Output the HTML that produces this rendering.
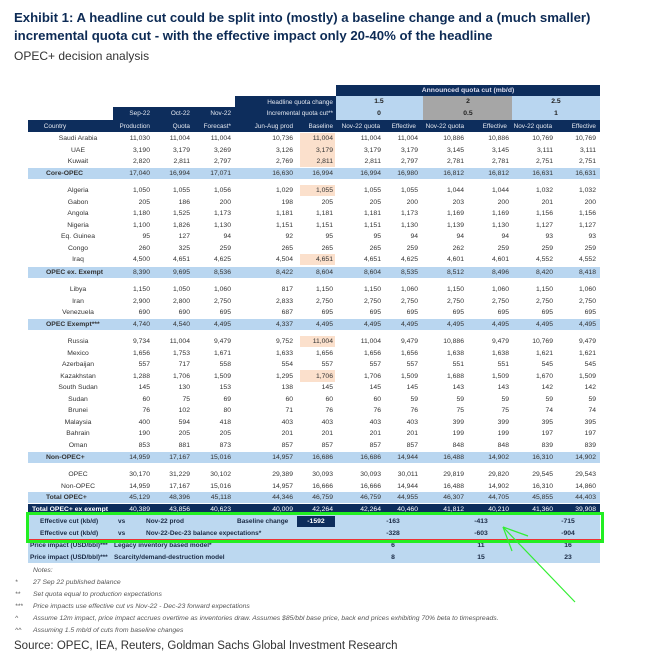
<!DOCTYPE html>
<html><head><meta charset="utf-8">
<style>
body{margin:0;width:650px;height:664px;background:#fff;position:relative;overflow:hidden;font-family:"Liberation Sans",sans-serif;}
.a{position:absolute;white-space:nowrap;}
.c{position:absolute;font-size:6.8px;color:#333;line-height:11px;height:11px;white-space:nowrap;}
.band{position:absolute;}
</style></head><body>
<div class="a" style="left:14px;top:9px;font-size:13.2px;font-weight:bold;color:#0d2b55;line-height:18px;">Exhibit 1: A headline cut could be split into (mostly) a baseline change and a (much smaller)<br>incremental quota cut - with the effective impact only 20-40% of the headline</div>
<div class="a" style="left:14px;top:49px;font-size:12px;color:#333;">OPEC+ decision analysis</div>

<div class="band" style="left:336px;top:85px;width:264px;height:11px;background:#0d2d5c;color:#dde;font-size:6.8px;font-weight:bold;text-align:center;line-height:11px;">Announced quota cut (mb/d)</div>
<div class="band" style="left:235px;top:96px;width:101px;height:24px;background:#0d2d5c;"></div>
<div class="band" style="left:113px;top:107px;width:122px;height:13px;background:#0d2d5c;"></div>
<div class="band" style="left:336px;top:96px;width:264px;height:24px;background:#b9d6f0;"></div>
<div class="band" style="left:423px;top:96px;width:89px;height:24px;background:#a6a6a6;"></div>
<div class="band" style="left:28px;top:120px;width:572px;height:12px;background:#0d2d5c;"></div>
<div class="band" style="left:300px;top:133px;width:35px;height:34px;background:#fbe0cc;"></div>
<div id="body"></div>
<div class="band" style="left:28px;top:515px;width:572px;height:48px;background:#bcd8f0;"></div>
<div class="band" style="left:297px;top:516px;width:38px;height:11px;background:#0d2d5c;color:#fff;font-size:6.8px;font-weight:bold;text-align:center;line-height:11px;">-1592</div>
<div id="bottom"></div>
<div class="band" style="left:26px;top:512px;width:572px;height:25px;border:3px solid #22ee22;box-shadow:inset 0 -1px 0 #e33;"></div>
<svg class="a" style="left:0;top:0" width="650" height="664"><g stroke="#33ee33" stroke-width="1.2" fill="none"><line x1="575" y1="602" x2="503" y2="527"/><line x1="503" y1="527" x2="528" y2="536"/><line x1="503" y1="527" x2="512" y2="551"/></g></svg>
<div id="notes"></div>
<div class="a" style="left:14px;top:640px;font-size:11.5px;color:#333;">Source: OPEC, IEA, Reuters, Goldman Sachs Global Investment Research</div>

<script>
const countries=["Saudi Arabia","UAE","Kuwait","Core-OPEC","Algeria","Gabon","Angola","Nigeria","Eq. Guinea","Congo","Iraq","OPEC ex. Exempt","Libya","Iran","Venezuela","OPEC Exempt***","Russia","Mexico","Azerbaijan","Kazakhstan","South Sudan","Sudan","Brunei","Malaysia","Bahrain","Oman","Non-OPEC+","OPEC","Non-OPEC","Total OPEC+","Total OPEC+ ex exempt"];
const values=[
["11,030","11,004","11,004","10,736","11,004","11,004","11,004","10,886","10,886","10,769","10,769"],
["3,190","3,179","3,269","3,126","3,179","3,179","3,179","3,145","3,145","3,111","3,111"],
["2,820","2,811","2,797","2,769","2,811","2,811","2,797","2,781","2,781","2,751","2,751"],
["17,040","16,994","17,071","16,630","16,994","16,994","16,980","16,812","16,812","16,631","16,631"],
["1,050","1,055","1,056","1,029","1,055","1,055","1,055","1,044","1,044","1,032","1,032"],
["205","186","200","198","205","205","200","203","200","201","200"],
["1,180","1,525","1,173","1,181","1,181","1,181","1,173","1,169","1,169","1,156","1,156"],
["1,100","1,826","1,130","1,151","1,151","1,151","1,130","1,139","1,130","1,127","1,127"],
["95","127","94","92","95","95","94","94","94","93","93"],
["260","325","259","265","265","265","259","262","259","259","259"],
["4,500","4,651","4,625","4,504","4,651","4,651","4,625","4,601","4,601","4,552","4,552"],
["8,390","9,695","8,536","8,422","8,604","8,604","8,535","8,512","8,496","8,420","8,418"],
["1,150","1,050","1,060","817","1,150","1,150","1,060","1,150","1,060","1,150","1,060"],
["2,900","2,800","2,750","2,833","2,750","2,750","2,750","2,750","2,750","2,750","2,750"],
["690","690","695","687","695","695","695","695","695","695","695"],
["4,740","4,540","4,495","4,337","4,495","4,495","4,495","4,495","4,495","4,495","4,495"],
["9,734","11,004","9,479","9,752","11,004","11,004","9,479","10,886","9,479","10,769","9,479"],
["1,656","1,753","1,671","1,633","1,656","1,656","1,656","1,638","1,638","1,621","1,621"],
["557","717","558","554","557","557","557","551","551","545","545"],
["1,288","1,706","1,509","1,295","1,706","1,706","1,509","1,688","1,509","1,670","1,509"],
["145","130","153","138","145","145","145","143","143","142","142"],
["60","75","69","60","60","60","59","59","59","59","59"],
["76","102","80","71","76","76","76","75","75","74","74"],
["400","594","418","403","403","403","403","399","399","395","395"],
["190","205","205","201","201","201","201","199","199","197","197"],
["853","881","873","857","857","857","857","848","848","839","839"],
["14,959","17,167","15,016","14,957","16,686","16,686","14,944","16,488","14,902","16,310","14,902"],
["30,170","31,229","30,102","29,389","30,093","30,093","30,011","29,819","29,820","29,545","29,543"],
["14,959","17,167","15,016","14,957","16,666","16,666","14,944","16,488","14,902","16,310","14,860"],
["45,129","48,396","45,118","44,346","46,759","46,759","44,955","46,307","44,705","45,855","44,403"],
["40,389","43,856","40,623","40,009","42,264","42,264","40,460","41,812","40,210","41,360","39,908"]];
const effVsProd=["-163","-413","-715"];
const effVsBal=["-328","-603","-904"];
const priceLegacy=["6","11","16"];
const priceScarcity=["8","15","23"];
const scenHead=["1.5","2","2.5"];
const scenInc=["0","0.5","1"];

const rowY=[133,144.5,156,168,185,196.5,208,219.5,231,242.5,254,267,284,295.5,307,319,336,347.5,359,370.5,382,393.5,405,416.5,428,439.5,452,469,480.5,492,504];
const colR=[150,190,231,293,333,381,418,464,509,553,596];
const bandRows={3:1,11:1,15:1,26:1,29:1};
const peach={4:1,10:1,16:1,19:1};
const body=document.getElementById('body');
function cell(parent,txt,x,y,w,align,style){
  const d=document.createElement('div');d.className='c';
  d.style.left=x+'px';d.style.top=y+'px';d.style.width=w+'px';d.style.textAlign=align;
  if(style)d.style.cssText+=style;d.textContent=txt;parent.appendChild(d);return d;}
const hdr=[["Sep-22",150,108],["Oct-22",190,108],["Nov-22",231,108],["Country",100,121],["Production",150,121],["Quota",190,121],["Forecast*",231,121],["Jun-Aug prod",293,121],["Baseline",333,121],["Nov-22 quota",380,121],["Effective",416,121],["Nov-22 quota",464,121],["Effective",507,121],["Nov-22 quota",552,121],["Effective",596,121],["Headline quota change",333,97],["Incremental quota cut**",333,108]];
hdr.forEach(h=>{const e=cell(body,h[0],h[1]-90,h[2],90,h[0]=="Country"?"center":"right","color:#e4e8f0;font-size:6.4px;");

});
const scenX=[379,468,556];
scenHead.forEach((v,i)=>{const e=cell(body,v,scenX[i]-30,96,60,"center","font-weight:bold;color:#222;");

});
scenInc.forEach((v,i)=>{const e=cell(body,v,scenX[i]-30,108,60,"center","font-weight:bold;color:#222;");

});
countries.forEach((c,i)=>{
  const y=rowY[i];
  const dark=i==30, band=bandRows[i];
  if(band||dark){const b=document.createElement('div');b.className='band';
    
    
    b.style.cssText='left:28px;top:'+(y-0.5)+'px;width:572px;height:11.5px;background:'+(dark?'#0d2d5c':'#b9d6f0');body.appendChild(b);}
  if(peach[i]&&i>3){const p=document.createElement('div');p.className='band';
    
    
    p.style.cssText='left:300px;top:'+(y-0.5)+'px;width:35px;height:11.5px;background:#fbe0cc';body.appendChild(p);}
  const col=dark?'color:#fff;':'';
  const lab=cell(body,c,28,y,band||dark?104:100,band||dark?"left":"center",col+(band||dark?'font-weight:bold;padding-left:'+(dark?4:18)+'px;':''));
  
  
  values[i].forEach((v,j)=>{const e=cell(body,v,colR[j]-50,y,50,"right",col);
    
    });
});
const bottom=document.getElementById('bottom');
const btx=[["Effective cut (kb/d)",40,516],["vs",118,516],["Nov-22 prod",146,516],["Baseline change",237,516],["Effective cut (kb/d)",40,528],["vs",118,528],["Nov-22-Dec-23 balance expectations*",146,528],["Price impact (USD/bbl)***",30,540],["Legacy inventory based model*",114,540],["Price impact (USD/bbl)***",30,552],["Scarcity/demand-destruction model",114,552]];
btx.forEach(b=>{const e=cell(bottom,b[0],b[1],b[2],200,"left","font-weight:bold;color:#1a2a44;font-size:6.5px;");

});
const sx=[403,491,578];
[[effVsProd,516],[effVsBal,528],[priceLegacy,540],[priceScarcity,552]].forEach(r=>{
  r[0].forEach((v,i)=>{const e=cell(bottom,v,sx[i]-30,r[1],40,"center","font-weight:bold;color:#1a2a44;");
  
  });});
const notes=document.getElementById('notes');
const nt=[["","Notes:",565],["*","27 Sep 22 published balance",577],["**","Set quota equal to production expectations",589],["***","Price impacts use effective cut vs Nov-22 - Dec-23 forward expectations",601],["^","Assume 12m impact, price impact accrues overtime as inventories draw.  Assumes $85/bbl base price, back end prices exhibiting 70% beta to timespreads.",613],["^^","Assuming 1.5 mb/d of cuts from baseline changes",625]];
nt.forEach(n=>{const a=cell(notes,n[0],15,n[2],14,"left","font-style:italic;color:#555;");


const b=cell(notes,n[1],33,n[2],560,"left","font-style:italic;color:#555;");

});
</script>
</body></html>
